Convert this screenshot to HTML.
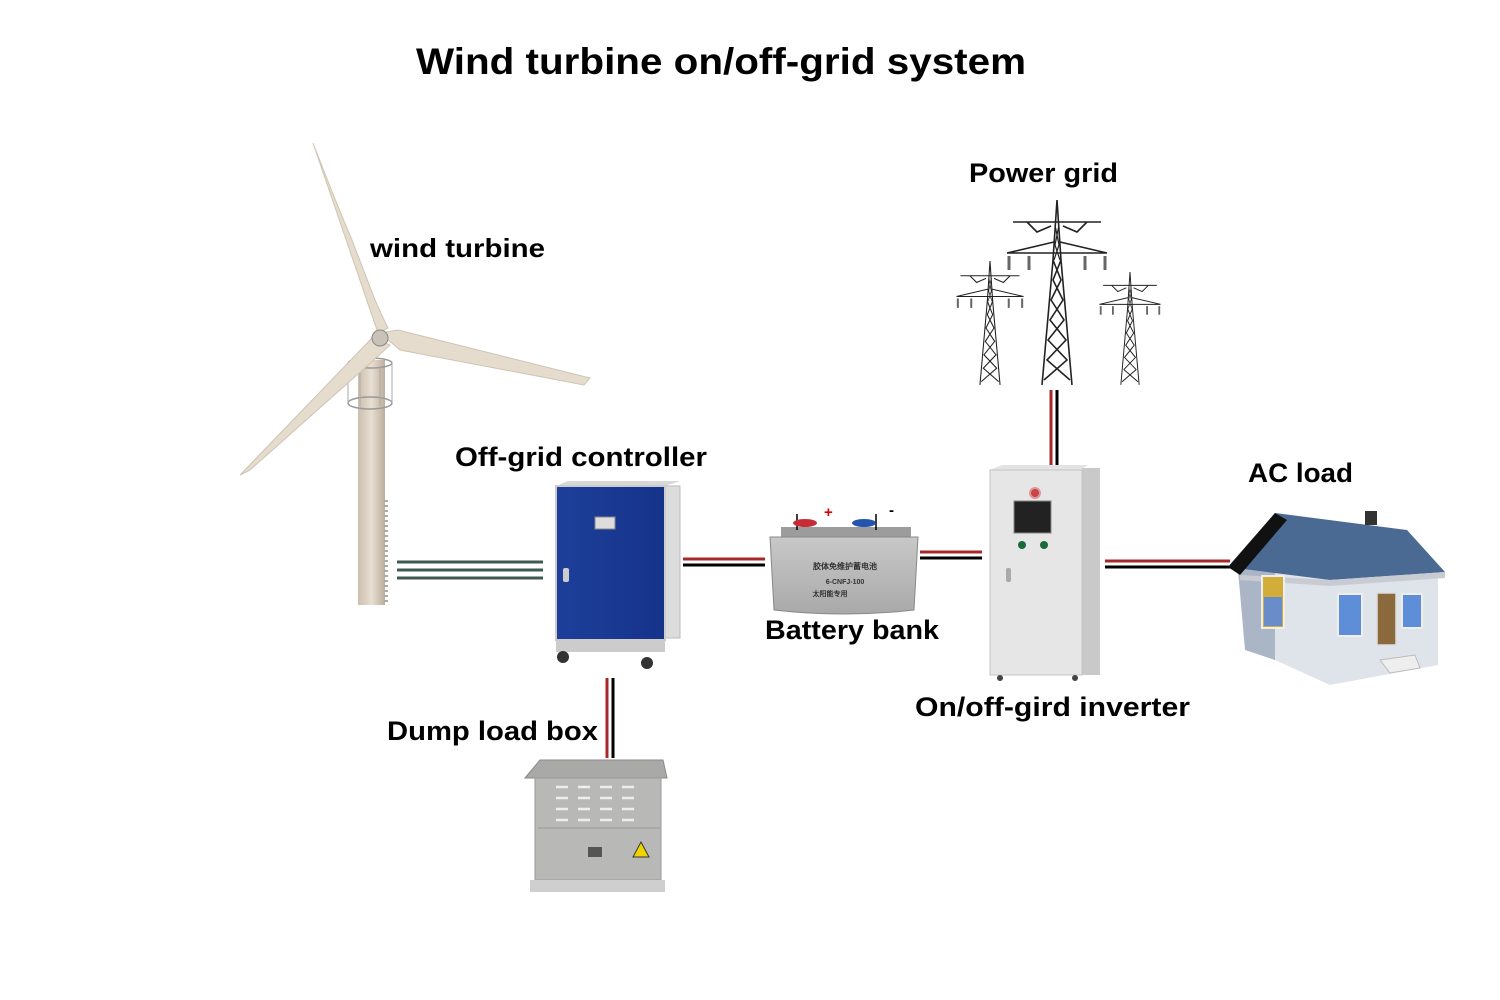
<!DOCTYPE html>
<html><head><meta charset="utf-8"><style>
html,body{margin:0;padding:0;background:#fff;}
svg{display:block;}
text{font-family:"Liberation Sans",sans-serif;font-weight:bold;fill:#000;}
</style></head><body>
<svg width="1500" height="1000" viewBox="0 0 1500 1000" xmlns="http://www.w3.org/2000/svg">
<defs>
<linearGradient id="tow" x1="0" x2="1"><stop offset="0" stop-color="#cdbfae"/><stop offset="0.5" stop-color="#e8ded2"/><stop offset="1" stop-color="#bcae9c"/></linearGradient>
<linearGradient id="blue" x1="0" x2="1"><stop offset="0" stop-color="#1d3f9a"/><stop offset="1" stop-color="#16338a"/></linearGradient>
<linearGradient id="metal" x1="0" y1="0" x2="0" y2="1"><stop offset="0" stop-color="#c8c8c8"/><stop offset="1" stop-color="#a9a9a9"/></linearGradient>
<g id="tower" fill="none" stroke="#222" stroke-width="1.6">
  <path d="M0,0 L-4,60 L-15,185 M0,0 L4,60 L15,185"/>
  <path d="M-4,60 L4,80 L-6,100 L7,120 L-9,140 L10,160 L-13,180 M4,60 L-4,80 L6,100 L-7,120 L9,140 L-10,160 L13,180"/>
  <path d="M-2,25 L2,45 L-3,60 M2,25 L-2,45 L3,60" stroke-width="1.2"/>
  <path d="M-44,22 L44,22 M-30,22 L-20,32 L-6,26 M30,22 L20,32 L6,26 M-50,53 L50,53 M-50,53 L-3,42 M50,53 L3,42" />
  <path d="M-48,56 v14 M-28,56 v14 M28,56 v14 M48,56 v14" stroke="#666" stroke-width="3"/>
</g>
</defs>

<text x="721" y="74" font-size="37" text-anchor="middle" textLength="610" lengthAdjust="spacingAndGlyphs">Wind turbine on/off-grid system</text>

<!-- wind turbine -->
<rect x="358" y="360" width="27" height="245" fill="url(#tow)"/>
<path d="M386,500 v105" stroke="#aaa" stroke-width="4" stroke-dasharray="2 3"/>
<ellipse cx="370" cy="363" rx="22" ry="5" fill="none" stroke="#999" stroke-width="1.5"/>
<ellipse cx="370" cy="403" rx="22" ry="6" fill="none" stroke="#999" stroke-width="1.5"/>
<path d="M348,363 v40 M392,363 v40 M360,366 v40 M380,366 v40" stroke="#aaa" stroke-width="1"/>
<path d="M378,333 L313,143 Q335,200 352,240 L375,300 Q384,320 388,328 Z" fill="#e6dccd" stroke="#cfc4b3"/>
<path d="M380,333 L398,330 L590,378 L584,385 L400,350 Z" fill="#e6dccd" stroke="#cfc4b3"/>
<path d="M372,338 L240,475 L250,470 L376,358 L390,345 Z" fill="#e6dccd" stroke="#cfc4b3"/>
<circle cx="380" cy="338" r="8" fill="#c9c2b8" stroke="#888"/>

<!-- green lines -->
<path d="M397,562 H543 M397,570 H543 M397,578 H543" stroke="#3f5b51" stroke-width="3"/>

<!-- controller -->
<path d="M556,486 L568,481 L680,481 L665,486 Z" fill="#d8d8d8"/>
<rect x="665" y="486" width="15" height="152" fill="#dcdcdc" stroke="#bbb"/>
<rect x="556" y="486" width="109" height="154" fill="url(#blue)" stroke="#ccc" stroke-width="2"/>
<rect x="595" y="517" width="20" height="12" fill="#ddd" stroke="#888"/>
<rect x="563" y="568" width="6" height="14" rx="2" fill="#ccc"/>
<rect x="556" y="640" width="109" height="12" fill="#ccc"/>
<circle cx="563" cy="657" r="6" fill="#333"/><circle cx="647" cy="663" r="6" fill="#333"/>

<!-- wires -->
<g stroke-width="3">
<path d="M683,559 H765 M920,552 H982 M1105,561 H1230" stroke="#a8282a"/>
<path d="M683,565 H765 M920,558 H982 M1105,567 H1230" stroke="#000"/>
<path d="M1051,390 V465 M607,678 V758" stroke="#a8282a"/>
<path d="M1057,390 V465 M613,678 V758" stroke="#000"/>
</g>

<!-- battery -->
<rect x="781" y="527" width="130" height="12" fill="#9c9c9c"/>
<path d="M770,537 H918 L914,610 Q844,618 774,610 Z" fill="url(#metal)" stroke="#888"/>
<path d="M797,514 v16 M876,514 v16" stroke="#000" stroke-width="1.5"/>
<ellipse cx="805" cy="523" rx="12" ry="4" fill="#c62b36"/>
<ellipse cx="864" cy="523" rx="12" ry="4" fill="#2454b0"/>
<text x="824" y="517" font-size="15" fill="#d00" style="fill:#d00">+</text>
<text x="889" y="515" font-size="15">-</text>
<text x="845" y="569" font-size="8" text-anchor="middle" font-family="'Liberation Sans','Noto Sans CJK SC',sans-serif" style="fill:#333">胶体免维护蓄电池</text>
<text x="845" y="584" font-size="7" text-anchor="middle" style="fill:#333">6-CNFJ-100</text>
<text x="830" y="596" font-size="7" text-anchor="middle" font-family="'Liberation Sans','Noto Sans CJK SC',sans-serif" style="fill:#333">太阳能专用</text>

<!-- inverter -->
<path d="M990,470 L1002,465 L1088,465 L1080,470 Z" fill="#e3e3e3"/>
<rect x="1082" y="468" width="18" height="207" fill="#c9c9c9"/>
<rect x="990" y="470" width="92" height="205" fill="#e6e6e6" stroke="#c4c4c4"/>
<circle cx="1035" cy="493" r="5" fill="#c44" stroke="#d99" stroke-width="2"/>
<rect x="1014" y="501" width="37" height="32" fill="#222" stroke="#888"/>
<circle cx="1022" cy="545" r="4" fill="#1a6b3c"/><circle cx="1044" cy="545" r="4" fill="#1a6b3c"/>
<rect x="1006" y="568" width="5" height="14" rx="2" fill="#aaa"/>
<circle cx="1000" cy="678" r="3" fill="#444"/><circle cx="1075" cy="678" r="3" fill="#444"/>

<!-- towers -->
<use href="#tower" transform="translate(1057,200)"/>
<use href="#tower" transform="translate(990,261) scale(0.67)"/>
<use href="#tower" transform="translate(1130,272) scale(0.61)"/>

<!-- house -->
<path d="M1238,570 L1275,560 L1275,660 L1245,650 Z" fill="#aab5c6"/>
<path d="M1275,560 L1438,570 L1438,665 L1330,685 L1275,660 Z" fill="#dfe3ea"/>
<path d="M1228,567 L1275,513 L1407,530 L1445,572 L1330,580 Z" fill="#4a6a94"/>
<path d="M1228,567 L1275,513 L1287,520 L1240,575 Z" fill="#111"/>
<path d="M1240,575 L1330,580 L1445,572 L1445,578 L1330,586 L1240,580 Z" fill="#c8ccd2"/>
<rect x="1365" y="511" width="12" height="14" fill="#333"/>
<rect x="1262" y="576" width="22" height="52" fill="#d2ad3a" stroke="#eee" stroke-width="2"/>
<rect x="1264" y="597" width="18" height="29" fill="#6a8cc8"/>
<rect x="1338" y="594" width="24" height="42" fill="#5f8ed8" stroke="#eee" stroke-width="2"/>
<rect x="1377" y="593" width="19" height="52" fill="#8a6a3c" stroke="#ddd" stroke-width="1.5"/>
<rect x="1402" y="594" width="20" height="34" fill="#5f8ed8" stroke="#eee" stroke-width="2"/>
<path d="M1380,660 L1415,655 L1420,668 L1390,673 Z" fill="#eee" stroke="#bbb"/>

<!-- dump load box -->
<path d="M525,778 L540,760 L663,760 L667,778 Z" fill="#a9aaa8" stroke="#888"/>
<rect x="535" y="778" width="126" height="102" fill="#b8b9b7" stroke="#999"/>
<rect x="530" y="880" width="135" height="12" fill="#cfcfcf"/>
<g stroke="#eee" stroke-width="2.5">
<path d="M556,787 h12 M578,787 h12 M600,787 h12 M622,787 h12 M556,798 h12 M578,798 h12 M600,798 h12 M622,798 h12 M556,809 h12 M578,809 h12 M600,809 h12 M622,809 h12 M556,820 h12 M578,820 h12 M600,820 h12 M622,820 h12"/>
</g>
<path d="M538,828 H660" stroke="#999"/>
<path d="M641,842 L649,857 L633,857 Z" fill="#f0d400" stroke="#333"/>
<rect x="588" y="847" width="14" height="10" fill="#555"/>

<!-- labels -->
<text x="370" y="257" font-size="26" textLength="175" lengthAdjust="spacingAndGlyphs">wind turbine</text>
<text x="455" y="466" font-size="27" textLength="252" lengthAdjust="spacingAndGlyphs">Off-grid controller</text>
<text x="765" y="639" font-size="27" textLength="174" lengthAdjust="spacingAndGlyphs">Battery bank</text>
<text x="915" y="716" font-size="27" textLength="275" lengthAdjust="spacingAndGlyphs">On/off-gird inverter</text>
<text x="387" y="740" font-size="27" textLength="211" lengthAdjust="spacingAndGlyphs">Dump load box</text>
<text x="969" y="182" font-size="27" textLength="149" lengthAdjust="spacingAndGlyphs">Power grid</text>
<text x="1248" y="482" font-size="27" textLength="105" lengthAdjust="spacingAndGlyphs">AC load</text>
</svg>
</body></html>
